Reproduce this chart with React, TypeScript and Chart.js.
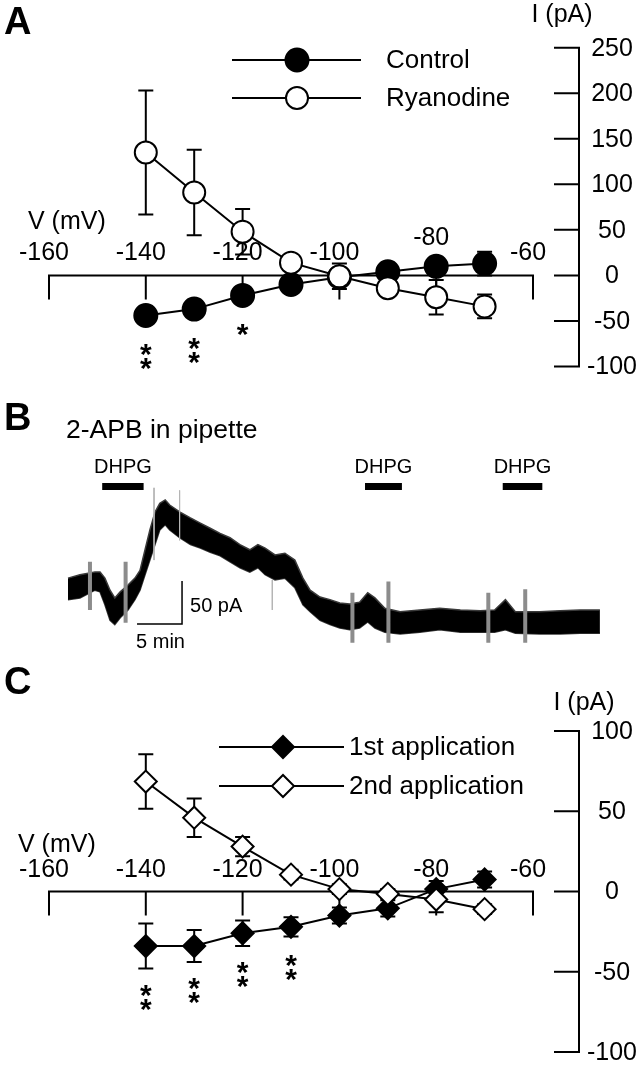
import React, { useEffect, useRef } from "react";
import { Chart, registerables } from "chart.js";
Chart.register(...registerables);

const FONT = "'Liberation Sans', Arial, Helvetica, sans-serif";

// ---------- Panel A data (V in mV, I in pA) ----------
const voltagesA = [-140, -130, -120, -110, -100, -90, -80, -70];
const controlI = [-44, -37, -22, -10, -2, 4, 10, 13];
const controlErr = [5, 5, 4, 4, 4, 3, 5, 13];
const ryanodineI = [135, 91, 48, 14, -1, -14, -24, -34];
const ryanodineErr = [68, 47, 25, 6, 14, 5, 19, 13];
const significanceA = [2, 2, 1, 0, 0, 0, 0, 0];
const xTickValues = [-160, -140, -120, -100, -80, -60];
const yTickValuesA = [250, 200, 150, 100, 50, 0, -50, -100];

// ---------- Panel C data ----------
const voltagesC = [-140, -130, -120, -110, -100, -90, -80, -70];
const firstAppI = [-34, -34, -26, -22, -15, -10.5, 1.5, 7.5];
const firstAppErr = [14, 10, 8, 6, 5, 5, 5, 5];
const secondAppI = [68.5, 46, 28, 10.5, 1.5, -1.5, -5, -11];
const secondAppErr = [17, 12, 6, 3, 3, 3, 8, 3];
const significanceC = [2, 2, 2, 2, 0, 0, 0, 0];
const yTickValuesC = [100, 50, 0, -50, -100];

// ---------- Panel B data (time in min, current in pA) ----------
const traceTime = [0, 1.33, 3.0, 3.56, 4.1, 4.67, 5.2, 5.8, 6.67, 7.44, 8.0, 8.56, 9.1, 9.67, 10.2, 10.8, 11.3, 12.4, 13.6, 14.7, 15.8, 16.9, 18.0, 19.1, 20.2, 21.1, 21.9, 23.0, 24.1, 25.2, 26.1, 26.9, 28.0, 29.1, 30.2, 31.3, 32.4, 33.3, 34.1, 35.2, 36.9, 39.1, 41.3, 43.6, 45.8, 47.4, 48.6, 49.7, 52.4, 54.7, 56.9, 59.1];
const traceUpper = [51, 55, 58, 58, 51, 37, 28, 35, 43, 51, 60, 84, 107, 128, 138, 142, 136, 128, 121, 115, 109, 103, 98, 90, 84, 90, 86, 78, 80, 72, 51, 37, 29, 26, 22, 21, 23, 34, 28, 16, 12, 14, 16, 14, 13, 14, 26, 12, 12, 13, 14, 14];
const traceLower = [26, 28, 37, 35, 20, 2, -3, 5, 14, 26, 37, 55, 72, 90, 107, 113, 107, 98, 90, 86, 81, 77, 70, 63, 58, 63, 55, 49, 51, 40, 20, 12, 2, -3, -7, -9, -7, 0, -7, -12, -14, -12, -9, -12, -12, -12, -9, -13, -14, -14, -13, -13];
const spikeTime = [2.44, 6.4, 31.6, 35.6, 46.7, 50.8];
const spikeTop = [70, 70, 34, 47, 34, 38];
const spikeBottom = [14, -1, -24, -24, -24, -24];
const thinSpikeTime = [9.56, 12.4, 22.7];
const thinSpikeTop = [156, 153, 49];
const thinSpikeBottom = [72, 95, 14];
const dhpgStart = [3.8, 33.0, 48.3];
const dhpgEnd = [8.4, 37.1, 52.7];
const scaleBarMinutes = 5;
const scaleBarPA = 50;
const scaleBarAnchor = { t: 12.67, i: -2.3 };

// ---------- helpers ----------
function IVPanel({ spec }) {
  const ref = useRef(null);
  useEffect(() => {
    const L = spec.layout;
    const plugin = {
      id: "ivDecor",
      beforeDatasetsDraw(chart) {
        const { ctx } = chart;
        const xs = chart.scales.x;
        const ys = chart.scales.y;
        const y0 = ys.getPixelForValue(0);
        const xL = xs.getPixelForValue(spec.xTicks[0]);
        const xR = xs.getPixelForValue(spec.xTicks[spec.xTicks.length - 1]);
        ctx.save();
        ctx.strokeStyle = "#000";
        ctx.lineWidth = 2;
        ctx.lineCap = "square";
        ctx.beginPath();
        ctx.moveTo(xL, y0);
        ctx.lineTo(xR, y0);
        spec.xTicks.forEach((t) => {
          const x = xs.getPixelForValue(t);
          ctx.moveTo(x, y0);
          ctx.lineTo(x, y0 + 23);
        });
        const ax = chart.chartArea.right + 46;
        ctx.moveTo(ax, ys.getPixelForValue(spec.yTicks[0]));
        ctx.lineTo(ax, ys.getPixelForValue(spec.yTicks[spec.yTicks.length - 1]));
        spec.yTicks.forEach((t) => {
          const y = ys.getPixelForValue(t);
          ctx.moveTo(ax - 24, y);
          ctx.lineTo(ax, y);
        });
        ctx.stroke();
        // error bars
        ctx.lineCap = "butt";
        ctx.beginPath();
        spec.series.forEach((s) => {
          spec.voltages.forEach((v, i) => {
            const x = xs.getPixelForValue(v);
            const yt = ys.getPixelForValue(s.values[i] + s.err[i]);
            const yb = ys.getPixelForValue(s.values[i] - s.err[i]);
            ctx.moveTo(x, yt);
            ctx.lineTo(x, yb);
            ctx.moveTo(x - 7.5, yt);
            ctx.lineTo(x + 7.5, yt);
            ctx.moveTo(x - 7.5, yb);
            ctx.lineTo(x + 7.5, yb);
          });
        });
        ctx.stroke();
        ctx.restore();
      },
      afterDatasetsDraw(chart) {
        const { ctx } = chart;
        const xs = chart.scales.x;
        const ys = chart.scales.y;
        const y0 = ys.getPixelForValue(0);
        const ax = chart.chartArea.right + 46;
        ctx.save();
        ctx.fillStyle = "#000";
        ctx.textBaseline = "middle";
        ctx.font = `25px ${FONT}`;
        ctx.textAlign = "center";
        spec.xTicks.forEach((t) => {
          const dy = (L.raised && L.raised[t]) || 0;
          ctx.fillText(String(t), xs.getPixelForValue(t) - 5, y0 + L.xLabelDy + dy);
        });
        spec.yTicks.forEach((t) => {
          ctx.fillText(String(t), ax + 33, ys.getPixelForValue(t) + 1);
        });
        ctx.fillText("I (pA)", L.yTitle.x, L.yTitle.y);
        ctx.textAlign = "left";
        ctx.fillText("V (mV)", L.xTitle.x, L.xTitle.y);
        ctx.font = `bold 38px ${FONT}`;
        ctx.fillText(spec.letter, L.letter.x, L.letter.y);
        // legend
        const lg = L.legend;
        spec.legendOrder.forEach((si, k) => {
          const s = spec.series[si];
          const y = lg.ys[k];
          ctx.strokeStyle = "#000";
          ctx.lineWidth = 2;
          ctx.beginPath();
          ctx.moveTo(lg.x0, y);
          ctx.lineTo(lg.x1, y);
          ctx.stroke();
          ctx.beginPath();
          if (s.style === "circle") {
            ctx.arc(lg.xm, y, s.radius, 0, Math.PI * 2);
          } else {
            ctx.moveTo(lg.xm - s.radius, y);
            ctx.lineTo(lg.xm, y - s.radius);
            ctx.lineTo(lg.xm + s.radius, y);
            ctx.lineTo(lg.xm, y + s.radius);
            ctx.closePath();
          }
          ctx.fillStyle = s.fill;
          ctx.fill();
          ctx.stroke();
          ctx.fillStyle = "#000";
          ctx.font = `26px ${FONT}`;
          ctx.textAlign = "left";
          ctx.fillText(s.label, lg.xt, y + 1);
        });
        // significance asterisks
        const ss = spec.series[spec.sigSeries];
        ctx.font = `bold 30px ${FONT}`;
        ctx.textAlign = "center";
        ctx.textBaseline = "alphabetic";
        spec.sig.forEach((n, i) => {
          if (!n) return;
          const x = xs.getPixelForValue(spec.voltages[i]);
          const lower = Math.max(
            ys.getPixelForValue(ss.values[i] - ss.err[i]),
            ys.getPixelForValue(ss.values[i]) + ss.radius + 1
          );
          for (let k = 0; k < n; k++) {
            const cy = lower + 19 + k * 14;
            ctx.fillText("*", x, cy + 17);
          }
        });
        ctx.restore();
      },
    };
    const chart = new Chart(ref.current, {
      type: "line",
      data: {
        datasets: spec.series.map((s) => ({
          label: s.label,
          data: spec.voltages.map((v, i) => ({ x: v, y: s.values[i] })),
          borderColor: "#000",
          borderWidth: 2,
          pointStyle: s.style,
          pointRadius: s.radius,
          pointBackgroundColor: s.fill,
          pointBorderColor: "#000",
          pointBorderWidth: 2,
          tension: 0,
          fill: false,
          clip: false,
        })),
      },
      options: {
        animation: false,
        responsive: false,
        events: [],
        layout: { padding: { left: 49, right: 110, top: L.padTop, bottom: L.padBottom } },
        scales: {
          x: { type: "linear", min: spec.xTicks[0], max: spec.xTicks[spec.xTicks.length - 1], display: false },
          y: { type: "linear", min: spec.yTicks[spec.yTicks.length - 1], max: spec.yTicks[0], display: false },
        },
        plugins: { legend: { display: false }, tooltip: { enabled: false }, title: { display: false } },
      },
      plugins: [plugin],
    });
    return () => chart.destroy();
  }, []);
  return (
    <canvas
      ref={ref}
      width={643}
      height={spec.layout.height}
      style={{ position: "absolute", left: 0, top: spec.layout.top, width: 643, height: spec.layout.height }}
    />
  );
}

function TracePanel() {
  const ref = useRef(null);
  useEffect(() => {
    const plugin = {
      id: "traceDecor",
      afterDatasetsDraw(chart) {
        const { ctx } = chart;
        const xs = chart.scales.x;
        const ys = chart.scales.y;
        ctx.save();
        ctx.fillStyle = "#000";
        ctx.textBaseline = "middle";
        ctx.textAlign = "left";
        ctx.font = `bold 38px ${FONT}`;
        ctx.fillText("B", 4, 40);
        ctx.font = `26.5px ${FONT}`;
        ctx.fillText("2-APB in pipette", 66, 51);
        ctx.font = `20px ${FONT}`;
        ctx.textAlign = "center";
        dhpgStart.forEach((s, i) => {
          const a = xs.getPixelForValue(s);
          const b = xs.getPixelForValue(dhpgEnd[i]);
          ctx.fillText("DHPG", (a + b) / 2, 87);
          ctx.fillRect(a, 103, b - a, 7);
        });
        // scale bar
        const sx = xs.getPixelForValue(scaleBarAnchor.t);
        const sy = ys.getPixelForValue(scaleBarAnchor.i);
        const sxl = xs.getPixelForValue(scaleBarAnchor.t - scaleBarMinutes);
        const syt = ys.getPixelForValue(scaleBarAnchor.i + scaleBarPA);
        ctx.strokeStyle = "#000";
        ctx.lineWidth = 1.5;
        ctx.beginPath();
        ctx.moveTo(sxl, sy);
        ctx.lineTo(sx, sy);
        ctx.lineTo(sx, syt);
        ctx.stroke();
        ctx.font = `20px ${FONT}`;
        ctx.textAlign = "left";
        ctx.fillText("50 pA", sx + 8, (sy + syt) / 2 + 4);
        ctx.textAlign = "center";
        ctx.fillText("5 min", (sx + sxl) / 2 + 1, sy + 19);
        ctx.restore();
      },
    };
    const seg = (ts, tops, bots) =>
      ts.flatMap((t, i) => [
        { x: t, y: tops[i] },
        { x: t, y: bots[i] },
        { x: t, y: null },
      ]);
    const chart = new Chart(ref.current, {
      type: "line",
      data: {
        datasets: [
          {
            label: "artifacts",
            data: seg(spikeTime, spikeTop, spikeBottom),
            borderColor: "#8c8c8c",
            borderWidth: 4,
            pointRadius: 0,
            spanGaps: false,
            fill: false,
            clip: false,
          },
          {
            label: "thin artifacts",
            data: seg(thinSpikeTime, thinSpikeTop, thinSpikeBottom),
            borderColor: "#b4b4b4",
            borderWidth: 1,
            pointRadius: 0,
            spanGaps: false,
            fill: false,
            clip: false,
          },
          {
            label: "upper",
            data: traceTime.map((t, i) => ({ x: t, y: traceUpper[i] })),
            borderColor: "#3a3a3a",
            borderWidth: 1.5,
            pointRadius: 0,
            tension: 0,
            fill: "+1",
            backgroundColor: "#000",
            clip: false,
          },
          {
            label: "lower",
            data: traceTime.map((t, i) => ({ x: t, y: traceLower[i] })),
            borderColor: "#3a3a3a",
            borderWidth: 1.5,
            pointRadius: 0,
            tension: 0,
            fill: false,
            clip: false,
          },
        ],
      },
      options: {
        animation: false,
        responsive: false,
        events: [],
        layout: { padding: { left: 68, right: 41, top: 104.4, bottom: 12.2 } },
        scales: {
          x: { type: "linear", min: 0, max: 59.33, display: false },
          y: { type: "linear", min: -30, max: 160, display: false },
        },
        plugins: { legend: { display: false }, tooltip: { enabled: false }, title: { display: false } },
      },
      plugins: [plugin],
    });
    return () => chart.destroy();
  }, []);
  return (
    <canvas
      ref={ref}
      width={643}
      height={280}
      style={{ position: "absolute", left: 0, top: 380, width: 643, height: 280 }}
    />
  );
}

const specA = {
  letter: "A",
  voltages: voltagesA,
  xTicks: xTickValues,
  yTicks: yTickValuesA,
  series: [
    { label: "Ryanodine", values: ryanodineI, err: ryanodineErr, style: "circle", fill: "#fff", radius: 11 },
    { label: "Control", values: controlI, err: controlErr, style: "circle", fill: "#000", radius: 11.5 },
  ],
  legendOrder: [1, 0],
  sig: significanceA,
  sigSeries: 1,
  layout: {
    top: 0,
    height: 380,
    padTop: 47.7,
    padBottom: 10.5,
    xLabelDy: -22,
    raised: { "-80": -15 },
    yTitle: { x: 562, y: 15 },
    xTitle: { x: 28, y: 222 },
    letter: { x: 4, y: 24 },
    legend: { x0: 232, x1: 361, xm: 297, xt: 386, ys: [60, 98] },
  },
};

const specC = {
  letter: "C",
  voltages: voltagesC,
  xTicks: xTickValues,
  yTicks: yTickValuesC,
  series: [
    { label: "2nd application", values: secondAppI, err: secondAppErr, style: "rectRot", fill: "#fff", radius: 11 },
    { label: "1st application", values: firstAppI, err: firstAppErr, style: "rectRot", fill: "#000", radius: 11 },
  ],
  legendOrder: [1, 0],
  sig: significanceC,
  sigSeries: 1,
  layout: {
    top: 660,
    height: 405,
    padTop: 71,
    padBottom: 8.3,
    xLabelDy: -21,
    raised: {},
    yTitle: { x: 584, y: 43 },
    xTitle: { x: 18, y: 185 },
    letter: { x: 4, y: 24 },
    legend: { x0: 219, x1: 344, xm: 283, xt: 349, ys: [87, 126] },
  },
};

export default function App() {
  return (
    <div style={{ position: "absolute", left: 0, top: 0, width: 643, height: 1065, background: "#fff" }}>
      <IVPanel spec={specA} />
      <TracePanel />
      <IVPanel spec={specC} />
    </div>
  );
}
